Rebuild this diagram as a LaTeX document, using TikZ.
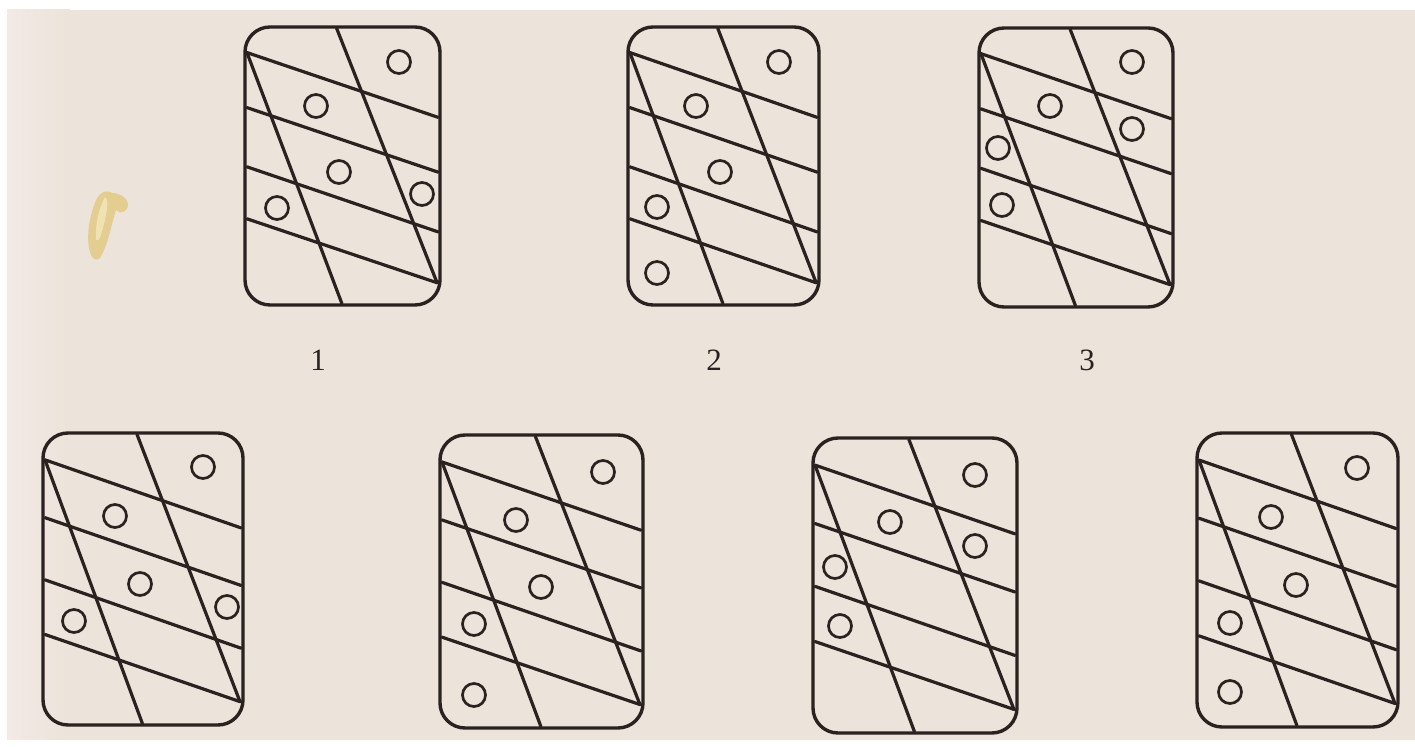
\documentclass[tikz,border=0pt]{standalone}
\usepackage{fontspec}
\setmainfont{Liberation Serif}
\definecolor{paper}{HTML}{ECE3DA}
\definecolor{paperl}{HTML}{F3E9E6}
\definecolor{inkc}{HTML}{2A2220}
\definecolor{blob}{HTML}{E3CD90}
\definecolor{blobl}{HTML}{F1E2B4}
\newcommand\cardpic[4]{%
  \begin{scope}[shift={(#1,#2)}, xscale=#3, yscale=#4]
    \draw[frame] (0,0) rectangle (1,1);
    \draw[ink] (0.01,0.092) -- (0.497,0.995);
    \draw[ink] (0.47,0.005) -- (0.985,0.92);
    \draw[ink] (0.01,0.092) -- (0.99,0.325);
    \draw[ink] (0.01,0.29) -- (0.99,0.522);
    \draw[ink] (0.01,0.503) -- (0.99,0.737);
    \draw[ink] (0.01,0.69) -- (0.985,0.92);
  \end{scope}}
\begin{document}
\begin{tikzpicture}[x=0.5pt,y=-0.5pt,
  ink/.style={draw=inkc, line width=1.6pt, line cap=round},
  frame/.style={draw=inkc, line width=1.7pt, rounded corners=12.5pt},
  dot/.style={circle, draw=inkc, line width=1.35pt, minimum size=11.5pt, inner sep=0pt},
  lab/.style={font=\fontsize{15.5}{18}\selectfont, text=inkc}]
\useasboundingbox (0,0) rectangle (1415,747);
\fill[white] (0,0) rectangle (1415,747);
\fill[paper] (7,10) rectangle (1415,740);
\shade[left color=paperl, right color=paper] (7,10) rectangle (70,740);
% smudge
\fill[blob] (90,252) .. controls (86,238) and (89,218) .. (95,203)
  .. controls (98,193) and (106,189) .. (112,193)
  .. controls (118,193) and (128,197) .. (128,205)
  .. controls (127,213) and (120,214) .. (116,210)
  .. controls (112,222) and (108,245) .. (100,258)
  .. controls (96,262) and (91,258) .. (90,252) -- cycle;
\fill[blobl] (96,240) .. controls (95,224) and (99,208) .. (105,197)
  .. controls (110,200) and (106,216) .. (103,228)
  .. controls (101,236) and (99,242) .. (96,240) -- cycle;
% cards
\cardpic{245}{27}{195}{278}
\cardpic{628}{27}{191}{278}
\cardpic{979}{28}{194}{279}
\cardpic{43}{433}{200}{292}
\cardpic{440}{435}{203}{293}
\cardpic{813}{438}{204}{295}
\cardpic{1197}{433}{201}{294}
% circles card 1
\node[dot] (c1a) at (399,62) {};
\node[dot] (c1b) at (316,106) {};
\node[dot] (c1c) at (339,172) {};
\node[dot] (c1d) at (422,194) {};
\node[dot] (c1e) at (277,208) {};
% card 2
\node[dot] (c2a) at (779,62) {};
\node[dot] (c2b) at (696,106) {};
\node[dot] (c2c) at (720,172) {};
\node[dot] (c2d) at (657,207) {};
\node[dot] (c2e) at (657,273) {};
% card 3
\node[dot] (c3a) at (1132,62) {};
\node[dot] (c3b) at (1050,106) {};
\node[dot] (c3c) at (1132,129) {};
\node[dot] (c3d) at (998,148) {};
\node[dot] (c3e) at (1002,205) {};
% card 4
\node[dot] (c4a) at (203,467) {};
\node[dot] (c4b) at (115,516) {};
\node[dot] (c4c) at (140,584) {};
\node[dot] (c4d) at (227,607) {};
\node[dot] (c4e) at (74,621) {};
% card 5
\node[dot] (c5a) at (603,472) {};
\node[dot] (c5b) at (516,520) {};
\node[dot] (c5c) at (541,587) {};
\node[dot] (c5d) at (474,624) {};
\node[dot] (c5e) at (474,695) {};
% card 6
\node[dot] (c6a) at (975,475) {};
\node[dot] (c6b) at (890,522) {};
\node[dot] (c6c) at (975,546) {};
\node[dot] (c6d) at (835,567) {};
\node[dot] (c6e) at (840,626) {};
% card 7
\node[dot] (c7a) at (1357,468) {};
\node[dot] (c7b) at (1271,517) {};
\node[dot] (c7c) at (1296,585) {};
\node[dot] (c7d) at (1230,623) {};
\node[dot] (c7e) at (1230,692) {};
% labels
\node[lab] (l1) at (318,360) {1};
\node[lab] (l2) at (714,360) {2};
\node[lab] (l3) at (1087,360) {3};
\end{tikzpicture}
\end{document}
